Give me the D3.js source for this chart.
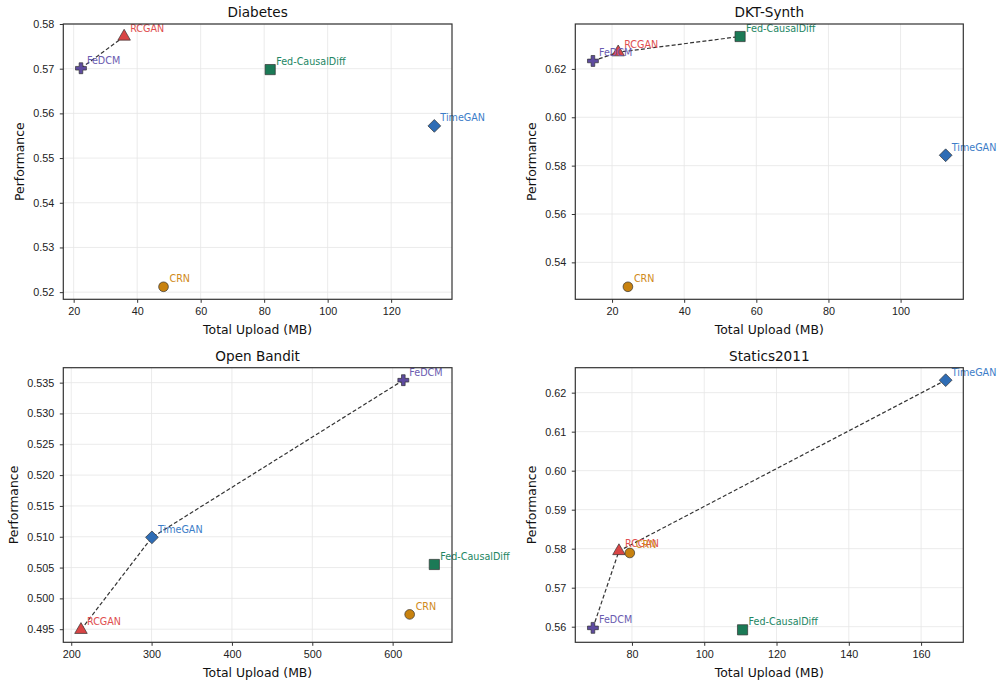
<!DOCTYPE html>
<html>
<head>
<meta charset="utf-8">
<script src="https://cdn.jsdelivr.net/npm/d3@7"></script>
<style>
  body { margin: 0; background: #fff; }
  svg { font-family: 'DejaVu Sans', sans-serif; }
  .grid line { stroke: #e6e6e6; stroke-width: 0.8; }
  .axis path, .axis line { stroke: #333; }
  .axis text { fill: #222; font-size: 10.8px; }
  .frontier { fill: none; stroke: #333; stroke-width: 1.2; stroke-dasharray: 4,2.2; }
  .marker { stroke: #333; stroke-width: 0.7; }
  .title { font-size: 13.6px; fill: #111; }
  .axis_label { font-size: 12.4px; fill: #111; }
  .note { font-size: 9.6px; }
</style>
</head>
<body>
<div id="container"></div>
<script>

//---------------------
// DATA
//---------------------

const methods = ['FeDCM', 'RCGAN', 'Fed-CausalDiff', 'TimeGAN', 'CRN'];

const uploadDiabetes = [22.3, 35.9, 81.9, 133.6, 48.3];
const perfDiabetes   = [0.5701, 0.5772, 0.5698, 0.5572, 0.5212];
const xTicksDiabetes = [20, 40, 60, 80, 100, 120];
const yTicksDiabetes = [0.52, 0.53, 0.54, 0.55, 0.56, 0.57, 0.58];

const uploadDkt = [14.7, 21.7, 55.5, 112.5, 24.4];
const perfDkt   = [0.6233, 0.6269, 0.6334, 0.5843, 0.5299];
const xTicksDkt = [20, 40, 60, 80, 100];
const yTicksDkt = [0.54, 0.56, 0.58, 0.60, 0.62];

const uploadBandit = [613.3, 212.1, 651.9, 300.4, 621.2];
const perfBandit   = [0.5354, 0.4949, 0.5055, 0.5099, 0.4974];
const xTicksBandit = [200, 300, 400, 500, 600];
const yTicksBandit = [0.495, 0.500, 0.505, 0.510, 0.515, 0.520, 0.525, 0.530, 0.535];

const uploadStatics = [69.2, 76.4, 110.6, 166.8, 79.4];
const perfStatics   = [0.5597, 0.5794, 0.5592, 0.6232, 0.5789];
const xTicksStatics = [80, 100, 120, 140, 160];
const yTicksStatics = [0.56, 0.57, 0.58, 0.59, 0.60, 0.61, 0.62];

//---------------------
// STYLE
//---------------------

const style = {
  'FeDCM':          { fill: '#5e4b9f', text: '#6a5bb0', symbol: d3.symbolCross,    size: 66 },
  'RCGAN':          { fill: '#d94545', text: '#e04f4f', symbol: d3.symbolTriangle, size: 68 },
  'Fed-CausalDiff': { fill: '#1b7a56', text: '#238663', symbol: d3.symbolSquare,   size: 104 },
  'TimeGAN':        { fill: '#2f6db5', text: '#3d7dc8', symbol: d3.symbolDiamond2, size: 104 },
  'CRN':            { fill: '#c8820f', text: '#d08a1a', symbol: d3.symbolCircle,   size: 74 }
};

const panels = [
  { title: 'Diabetes',    x: uploadDiabetes, y: perfDiabetes, xt: xTicksDiabetes, yt: yTicksDiabetes, fmt: '.2f',
    box: { left: 63.3, right: 452, top: 24, bottom: 299.3 } },
  { title: 'DKT-Synth',   x: uploadDkt, y: perfDkt, xt: xTicksDkt, yt: yTicksDkt, fmt: '.2f',
    box: { left: 575.3, right: 963.3, top: 24, bottom: 299.3 } },
  { title: 'Open Bandit', x: uploadBandit, y: perfBandit, xt: xTicksBandit, yt: yTicksBandit, fmt: '.3f',
    box: { left: 63.3, right: 452, top: 367.7, bottom: 642.3 } },
  { title: 'Statics2011', x: uploadStatics, y: perfStatics, xt: xTicksStatics, yt: yTicksStatics, fmt: '.2f',
    box: { left: 575.3, right: 963.3, top: 367.7, bottom: 642.3 } }
];

const svg = d3.select('#container')
              .append('svg')
              .attr('width', 1003)
              .attr('height', 686);

panels.forEach(drawPanel);

// matplotlib style autoscale: 5% margin each side
function padded (values) {
  const [lo, hi] = d3.extent(values);
  const pad = (hi - lo) * 0.05;
  return [lo - pad, hi + pad];
}

// non-dominated points: more upload must buy more performance
function frontier (points) {
  const sorted = points.slice().sort((a, b) => a.x - b.x);
  let best = -Infinity;
  return sorted.filter(p => {
    if (p.y > best) { best = p.y; return true; }
    return false;
  });
}

function drawPanel (p) {
  const b = p.box;
  const w = b.right - b.left;
  const h = b.bottom - b.top;

  const points = methods.map((m, i) => ({ name: m, x: p.x[i], y: p.y[i] }));

  const scale_x = d3.scaleLinear().domain(padded(p.x)).range([0, w]);
  const scale_y = d3.scaleLinear().domain(padded(p.y)).range([h, 0]);

  const g = svg.append('g')
               .attr('transform', `translate(${b.left}, ${b.top})`);

  // grid
  const grid = g.append('g').attr('class', 'grid');
  grid.selectAll('.gx')
      .data(p.xt)
      .enter()
      .append('line')
      .attr('x1', d => scale_x(d))
      .attr('x2', d => scale_x(d))
      .attr('y1', 0)
      .attr('y2', h);
  grid.selectAll('.gy')
      .data(p.yt)
      .enter()
      .append('line')
      .attr('x1', 0)
      .attr('x2', w)
      .attr('y1', d => scale_y(d))
      .attr('y2', d => scale_y(d));

  // pareto frontier
  const line = d3.line()
                 .x(d => scale_x(d.x))
                 .y(d => scale_y(d.y));
  g.append('path')
   .attr('class', 'frontier')
   .datum(frontier(points))
   .attr('d', line);

  // markers
  g.selectAll('.marker')
   .data(points)
   .enter()
   .append('path')
   .attr('class', 'marker')
   .attr('transform', d => `translate(${scale_x(d.x)}, ${scale_y(d.y)})`)
   .attr('d', d => d3.symbol().type(style[d.name].symbol).size(style[d.name].size)())
   .attr('fill', d => style[d.name].fill);

  // labels
  g.selectAll('.note')
   .data(points)
   .enter()
   .append('text')
   .attr('class', 'note')
   .attr('x', d => scale_x(d.x) + 6)
   .attr('y', d => scale_y(d.y) - 4.5)
   .attr('fill', d => style[d.name].text)
   .text(d => d.name);

  // frame
  g.append('rect')
   .attr('width', w)
   .attr('height', h)
   .attr('fill', 'none')
   .attr('stroke', '#333')
   .attr('stroke-width', 1.2);

  // axes
  const axis_x = d3.axisBottom(scale_x)
                   .tickValues(p.xt)
                   .tickFormat(d3.format('d'))
                   .tickSizeInner(3.5)
                   .tickSizeOuter(0)
                   .tickPadding(4.5);
  const gx = g.append('g')
              .attr('class', 'axis')
              .attr('transform', `translate(0, ${h})`)
              .call(axis_x);
  gx.select('.domain').remove();

  const axis_y = d3.axisLeft(scale_y)
                   .tickValues(p.yt)
                   .tickFormat(d3.format(p.fmt))
                   .tickSizeInner(3.5)
                   .tickSizeOuter(0)
                   .tickPadding(5.5);
  const gy = g.append('g')
              .attr('class', 'axis')
              .call(axis_y);
  gy.select('.domain').remove();

  // titles + axis labels
  g.append('text')
   .attr('class', 'title')
   .attr('x', w / 2)
   .attr('y', -12)
   .attr('text-anchor', 'middle')
   .attr('dominant-baseline', 'central')
   .text(p.title);

  g.append('text')
   .attr('class', 'axis_label')
   .attr('x', w / 2)
   .attr('y', h + 30)
   .attr('text-anchor', 'middle')
   .attr('dominant-baseline', 'central')
   .text('Total Upload (MB)');

  const box_y = gy.node().getBBox();
  g.append('text')
   .attr('class', 'axis_label')
   .attr('transform', `translate(${box_y.x - 13.5}, ${h / 2}) rotate(-90)`)
   .attr('text-anchor', 'middle')
   .attr('dominant-baseline', 'central')
   .text('Performance');
}

</script>
</body>
</html>
